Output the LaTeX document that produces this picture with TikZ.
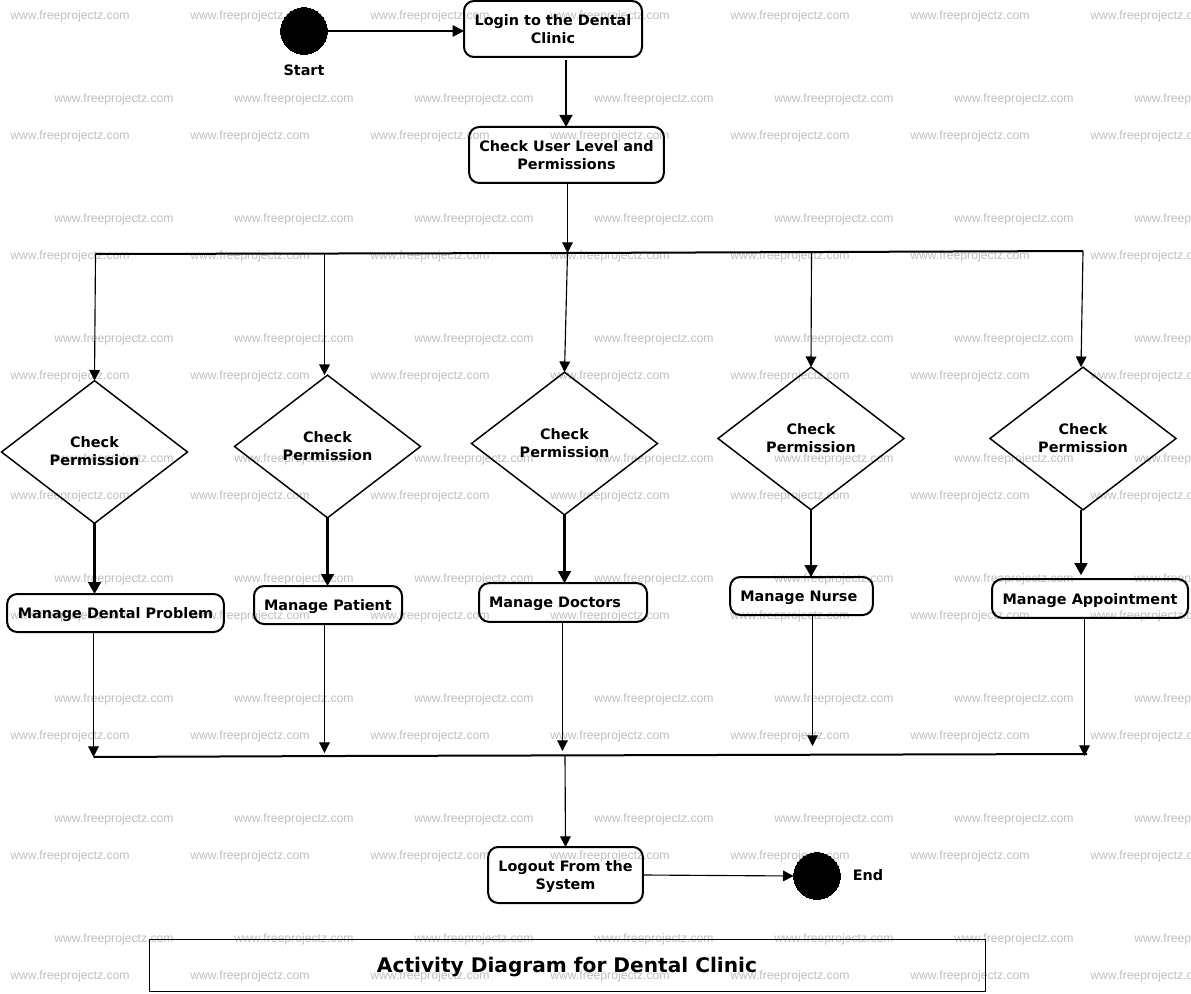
\documentclass[tikz,border=0pt]{standalone}
\usepackage{fontspec}
\setmainfont{DejaVu Sans}
\newfontfamily\wmfont{Liberation Sans}
\usetikzlibrary{arrows.meta,shapes.geometric,calc}
\definecolor{wmgray}{RGB}{190,190,190}
\newcommand{\dn}[1]{\raisebox{-1.1pt}{#1}}
\newcommand{\dnx}[2]{\raisebox{-#1}[\height][\depth]{#2}}
\newcommand{\upx}[2]{\raisebox{#1}[\height][\depth]{#2}}
\tikzset{
  wm/.style={anchor=west,inner sep=0pt,text=wmgray,font=\wmfont\fontsize{9.15pt}{10pt}\selectfont},
  lab/.style={font=\bfseries\fontsize{10.8pt}{13.5pt}\selectfont,align=center,inner sep=0pt,outer sep=0pt},
  act/.style={lab,draw=black,line width=1.5pt,rounded corners=7.5pt},
  dec/.style={lab,draw=black,line width=1.1pt,diamond,aspect=1,minimum width=139.5pt,minimum height=107pt},
  ini/.style={circle,fill=black,draw=black,line width=0pt,minimum size=35pt,inner sep=0pt,outer sep=0pt},
  thin arrow/.style={line width=0.85pt,-{Triangle[length=8pt,width=8pt]}},
  mid arrow/.style={line width=1.3pt,-{Triangle[length=8.5pt,width=8.5pt]}},
  thick arrow/.style={line width=1.9pt,-{Triangle[length=9pt,width=9.5pt]}},
  barline/.style={line width=1.5pt},
}
\begin{document}
\begin{tikzpicture}[x=0.75pt,y=-0.75pt]
\useasboundingbox (0,0) rectangle (1191,994);
% watermark
\begin{scope}
\clip (0,0) rectangle (1191,994);
\foreach \r in {0,...,8}{
  \foreach \c in {0,...,6}{
    \pgfmathsetmacro{\wx}{10+180*\c}
    \pgfmathsetmacro{\wy}{16+120*\r}
    \node[wm] (wa\r-\c) at (\wx,\wy) {www.freeprojectz.com};
  }
}
\foreach \r in {0,...,7}{
  \foreach \c in {0,...,6}{
    \pgfmathsetmacro{\wx}{54+180*\c}
    \pgfmathsetmacro{\wy}{99+120*\r}
    \node[wm] (wb\r-\c) at (\wx,\wy) {www.freeprojectz.com};
  }
}
\end{scope}
% nodes
\node[ini] (start) at (304,31) {};
\node[lab] (startl) at (304,70) {Start};
\node[act,minimum width=133.5pt,minimum height=42pt] (login) at (553,29) {\dn{Login to the Dental}\\\dn{Clinic}};
\node[act,minimum width=146pt,minimum height=42pt] (check) at (566.5,155) {\dn{Check User Level and}\\\dn{Permissions}};
\node[dec] (d1) at (94.5,452) {\upx{0.7pt}{Check}\\\upx{0.7pt}{Permission}};
\node[dec] (d2) at (327.5,446.5) {\dn{Check}\\\dn{Permission}};
\node[dec] (d3) at (564.5,443.5) {\dn{Check}\\\dn{Permission}};
\node[dec] (d4) at (811,438.5) {\dn{Check}\\\dn{Permission}};
\node[dec] (d5) at (1083,438.5) {\dn{Check}\\\dn{Permission}};
\node[act,minimum width=162.5pt,minimum height=28.5pt] (m1) at (115.5,613) {\dnx{1.5pt}{Manage Dental Problem}};
\node[act,minimum width=111pt,minimum height=28.5pt] (m2) at (328,605) {\dnx{1.5pt}{Manage Patient}};
\node[act,minimum width=126pt,minimum height=29pt] (m3) at (563,602.5) {\dnx{1.2pt}{Manage Doctors}\hspace*{12pt}};
\node[act,minimum width=107pt,minimum height=28.5pt] (m4) at (801.5,596) {\dnx{1.5pt}{Manage Nurse}\hspace*{4pt}};
\node[act,minimum width=147pt,minimum height=29pt] (m5) at (1090,598.5) {\dnx{1.2pt}{Manage Appointment}};
\node[act,minimum width=116pt,minimum height=42pt] (logout) at (565.5,875) {\dnx{1.5pt}{Logout From the}\\\dnx{1.5pt}{System}};
\node[ini] (endn) at (817,876) {};
\node[lab] (endl) at (868,875.5) {End};
\node[draw=black,line width=0.7pt,minimum width=627pt,minimum height=39.5pt,inner sep=0pt,font=\bfseries\fontsize{15.1pt}{18pt}\selectfont] (title) at (567,965.5) {\dnx{1.2pt}{Activity Diagram for Dental Clinic}};
% junction coordinates
\coordinate (tl) at (95.5,254);
\coordinate (tm) at (340,253.5);
\coordinate (tc) at (567.5,253);
\coordinate (tr) at (1083,251);
\coordinate (t2) at (324.5,254);
\coordinate (t4) at (811.5,252);
\coordinate (bl) at (93.5,757);
\coordinate (bm) at (343,756);
\coordinate (bc) at (565,755);
\coordinate (br) at (1087,754);
\coordinate (e2) at (324.5,753);
\coordinate (e3) at (562.5,751);
\coordinate (e4) at (812.5,746);
\coordinate (e5) at (1084.5,756);
% connectors
\draw[mid arrow] (start) -- (login.west |- start);
\draw[thick arrow] ([xshift=9.75pt,yshift=-2.2pt]login.south) -- (check.north -| {$(login.south)+(9.75pt,0)$});
\draw[thin arrow] (check.south -| tc) -- (tc);
\draw[barline] (tl) -- (tm) -- (tc) -- (tr);
\draw[thin arrow] (tl) -- (d1.north);
\draw[thin arrow] (t2) -- (d2.north -| t2);
\draw[thin arrow] (tc) -- (d3.north);
\draw[thin arrow] (t4) -- (d4.north);
\draw[thin arrow] (tr) -- ([xshift=-1.5pt]d5.north);
\draw[thick arrow] (d1.south) -- (m1.north -| d1.south);
\draw[thick arrow] (d2.south) -- (m2.north -| d2.south);
\draw[thick arrow] (d3.south) -- (m3.north -| d3.south);
\draw[thick arrow] (d4.south) -- (m4.north -| d4.south);
\draw[thick arrow] ([xshift=-1.5pt]d5.south) -- ([xshift=-1.5pt,yshift=3pt]m5.north -| d5.south);
\draw[thin arrow] (m1.south -| bl) -- (bl);
\draw[thin arrow] (m2.south -| e2) -- (e2);
\draw[thin arrow] (m3.south -| e3) -- (e3);
\draw[thin arrow] (m4.south -| e4) -- (e4);
\draw[thin arrow] (m5.south -| e5) -- (e5);
\draw[barline] (bl) -- (bm) -- (br);
\draw[thin arrow] (bc) -- (logout.north);
\draw[thin arrow] (logout.east) -- (endn.west);
\end{tikzpicture}
\end{document}
